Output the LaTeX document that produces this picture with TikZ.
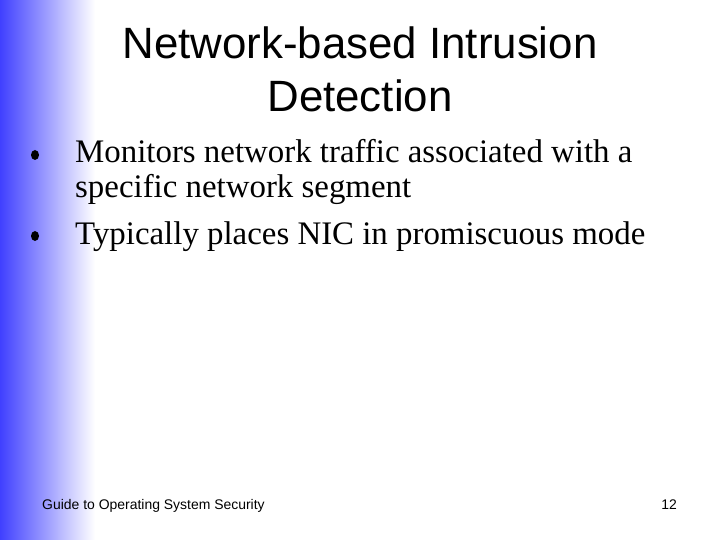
\documentclass[tikz,border=0pt]{standalone}
\usetikzlibrary{shapes.geometric}
\usepackage{fontspec}
\setmainfont{Liberation Serif}
\setsansfont{Liberation Sans}
\begin{document}
\begin{tikzpicture}[x=1bp,y=-1bp,
  title/.style={font=\sffamily\fontsize{44}{53}\selectfont,align=center,inner sep=0},
  body/.style={font=\fontsize{33}{34}\selectfont,anchor=base west,inner sep=0},
  dot/.style={ellipse,fill=black,minimum width=8bp,minimum height=10bp,inner sep=0},
  foot/.style={font=\sffamily\fontsize{14}{16}\selectfont,anchor=base west,inner sep=0}]
\useasboundingbox (0,0) rectangle (720,540);
\fill[white] (0,0) rectangle (720,540);
\shade[left color=blue!75!white,right color=white] (0,0) rectangle (95,540);
\node[title] (t) at (360,69) {Network-based Intrusion\\Detection};
\node[dot] (b1) at (35,155) {};
\node[dot] (b2) at (35,236) {};
\node[body] (l1) at (75,163) {Monitors network traffic associated with a};
\node[body] (l2) at (75,198) {specific network segment};
\node[body] (l3) at (75,245) {Typically places NIC in promiscuous mode};
\node[foot] (f) at (42,509) {Guide to Operating System Security};
\node[foot,anchor=base east] (n) at (677,509) {12};
\end{tikzpicture}
\end{document}
